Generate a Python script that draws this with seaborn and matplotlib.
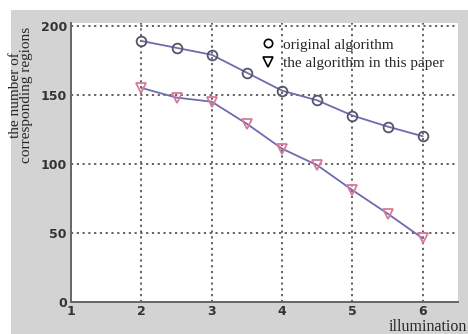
import numpy as np
import pandas as pd
import matplotlib.pyplot as plt
import matplotlib.lines as mlines
from matplotlib.patches import Rectangle
import seaborn as sns

illum = [2, 2.5, 3, 3.5, 4, 4.5, 5, 5.5, 6]
original = [189, 184, 179, 166, 153, 146, 135, 127, 120]
proposed = [155, 148, 145, 129, 111, 99, 81, 64, 46]
x_ticks = [1, 2, 3, 4, 5, 6]
y_ticks = [0, 50, 100, 150, 200]

df = pd.DataFrame({'illumination': illum, 'original': original, 'proposed': proposed})

sns.set_style('white')
fig = plt.figure(figsize=(4.68, 3.34), dpi=100)
fig.patches.append(Rectangle((11 / 468, 0), 1, 1 - 10 / 334, transform=fig.transFigure,
                             facecolor='#d3d3d3', edgecolor='none', zorder=-10))
ax = fig.add_axes([71 / 468, 1 - 302 / 334, (458 - 71) / 468, (302 - 23) / 334])
ax.set_facecolor('white')

line_c = '#6c6cae'
sns.lineplot(data=df, x='illumination', y='original', ax=ax, color=line_c, lw=1.3,
             marker='o', markersize=7, markerfacecolor='none',
             markeredgecolor='#55556a', markeredgewidth=1.3)
sns.lineplot(data=df, x='illumination', y='proposed', ax=ax, color=line_c, lw=1.3,
             marker='v', markersize=7.5, markerfacecolor='none',
             markeredgecolor='#d77a9a', markeredgewidth=1.3)

ax.set_xlim(1, 6.5)
ax.set_ylim(0, 202)
ax.set_xticks(x_ticks)
ax.set_yticks(y_ticks)
ax.set_xticklabels([str(t) for t in x_ticks], fontsize=9, fontweight='bold', color='#333333')
ax.set_yticklabels([str(t) for t in y_ticks], fontsize=9, fontweight='bold', color='#333333')
ax.tick_params(length=0, pad=3)
ax.tick_params(axis='x', pad=2)
ax.grid(True, linestyle=(0, (1.2, 2.0)), color='#555555', lw=1.3)
ax.set_xlabel('')
ax.set_ylabel('')
for s in ['top', 'right']:
    ax.spines[s].set_visible(False)
for s in ['left', 'bottom']:
    ax.spines[s].set_color('#666666')
    ax.spines[s].set_linewidth(1.4)

h1 = mlines.Line2D([], [], color='black', marker='o', ls='none', markersize=6,
                   markerfacecolor='none', markeredgewidth=1.2)
h2 = mlines.Line2D([], [], color='black', marker='v', ls='none', markersize=7,
                   markerfacecolor='none', markeredgewidth=1.2)
ax.legend([h1, h2], ['original algorithm', 'the algorithm in this paper'],
          loc='upper left', bbox_to_anchor=(0.45, 0.995), frameon=False,
          prop={'family': 'Liberation Serif', 'size': 11},
          handletextpad=0.4, labelspacing=0.3, handlelength=1.2)

fig.text(0.045, 0.715, 'the number of\ncorresponding regions', rotation=90,
         ha='center', va='center', family='Liberation Serif', fontsize=11,
         linespacing=0.85)
fig.text(0.997, -0.004, 'illumination', ha='right', va='bottom',
         family='Liberation Serif', fontsize=11.5)

fig.savefig('out.png', dpi=100)
